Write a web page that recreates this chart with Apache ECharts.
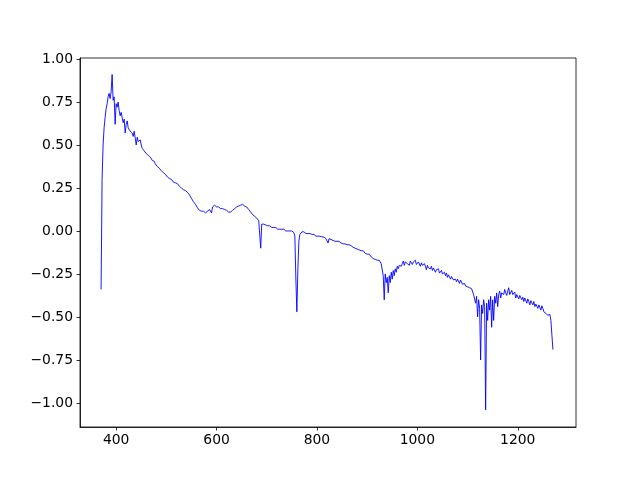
<!DOCTYPE html>
<html>
<head>
<meta charset="utf-8">
<script src="https://cdn.jsdelivr.net/npm/echarts@6/dist/echarts.min.js"></script>
<style>html,body{margin:0;padding:0;background:#fff}#c{width:640px;height:480px}</style>
</head>
<body>
<div id="c"></div>
<script>
// Wavelength sampling grid (nm): first sample and spacing
const wlStart = 370;
const wlStep = 2;
// Flux values, one per sample (370 ... 1270 nm)
const flux = [
 -0.34, 0.30, 0.50, 0.60, 0.66, 0.71, 0.74, 0.78, 0.80, 0.77,
 0.81, 0.91, 0.76, 0.78, 0.62, 0.74, 0.72, 0.75, 0.70, 0.67,
 0.69, 0.66, 0.63, 0.65, 0.57, 0.62, 0.64, 0.60, 0.61, 0.58,
 0.59, 0.57, 0.55, 0.58, 0.54, 0.50, 0.545, 0.52, 0.51, 0.53,
 0.50, 0.48, 0.49, 0.465, 0.47, 0.45, 0.455, 0.44, 0.435, 0.43,
 0.42, 0.41, 0.40, 0.405, 0.39, 0.395, 0.375, 0.385, 0.365, 0.37,
 0.35, 0.355, 0.34, 0.335, 0.33, 0.325, 0.315, 0.31, 0.305, 0.30,
 0.30, 0.295, 0.285, 0.29, 0.28, 0.275, 0.275, 0.265, 0.26, 0.255,
 0.25, 0.25, 0.24, 0.24, 0.235, 0.23, 0.225, 0.22, 0.21, 0.205,
 0.19, 0.18, 0.17, 0.165, 0.155, 0.145, 0.135, 0.125, 0.12, 0.115,
 0.115, 0.11, 0.115, 0.11, 0.105, 0.11, 0.115, 0.12, 0.125, 0.13,
 0.105, 0.14, 0.145, 0.15, 0.145, 0.14, 0.14, 0.14, 0.135, 0.13,
 0.13, 0.13, 0.125, 0.125, 0.12, 0.12, 0.115, 0.11, 0.105, 0.11,
 0.115, 0.12, 0.125, 0.13, 0.135, 0.14, 0.145, 0.145, 0.15, 0.15,
 0.15, 0.155, 0.15, 0.145, 0.14, 0.14, 0.13, 0.125, 0.12, 0.11,
 0.10, 0.095, 0.09, 0.085, 0.08, 0.075, 0.07, 0.06, 0.05, -0.10,
 0.04, 0.035, 0.04, 0.03, 0.035, 0.03, 0.03, 0.025, 0.03, 0.025,
 0.02, 0.025, 0.02, 0.015, 0.02, 0.015, 0.01, 0.015, 0.01, 0.015,
 0.01, 0.005, 0.01, 0.005, 0.0, 0.005, 0.0, 0.005, 0.0, -0.005,
 0.0, -0.005, -0.01, -0.03, -0.28, -0.47, -0.22, -0.06, -0.02, -0.01,
 -0.005, -0.01, -0.005, -0.01, -0.015, -0.01, -0.015, -0.02, -0.015, -0.02,
 -0.02, -0.025, -0.02, -0.025, -0.03, -0.025, -0.03, -0.035, -0.03, -0.035,
 -0.035, -0.04, -0.035, -0.04, -0.045, -0.04, -0.07, -0.045, -0.05, -0.05,
 -0.05, -0.055, -0.055, -0.06, -0.055, -0.06, -0.065, -0.06, -0.065, -0.07,
 -0.07, -0.075, -0.07, -0.075, -0.08, -0.08, -0.085, -0.08, -0.09, -0.085,
 -0.09, -0.095, -0.09, -0.10, -0.095, -0.105, -0.10, -0.11, -0.105, -0.115,
 -0.12, -0.115, -0.125, -0.13, -0.125, -0.135, -0.14, -0.135, -0.145, -0.15,
 -0.15, -0.16, -0.155, -0.165, -0.16, -0.17, -0.175, -0.17, -0.18, -0.19,
 -0.20, -0.26, -0.40, -0.25, -0.30, -0.27, -0.36, -0.26, -0.30, -0.24,
 -0.28, -0.23, -0.26, -0.22, -0.24, -0.205, -0.22, -0.20, -0.19, -0.205,
 -0.19, -0.175, -0.20, -0.18, -0.17, -0.19, -0.185, -0.20, -0.175, -0.18,
 -0.195, -0.18, -0.19, -0.17, -0.195, -0.20, -0.18, -0.19, -0.205, -0.185,
 -0.20, -0.21, -0.19, -0.205, -0.225, -0.20, -0.215, -0.21, -0.22, -0.205,
 -0.23, -0.215, -0.22, -0.24, -0.225, -0.235, -0.22, -0.245, -0.24, -0.23,
 -0.25, -0.255, -0.24, -0.26, -0.245, -0.27, -0.255, -0.26, -0.28, -0.265,
 -0.27, -0.285, -0.275, -0.28, -0.295, -0.28, -0.29, -0.305, -0.285, -0.295,
 -0.31, -0.30, -0.305, -0.32, -0.31, -0.325, -0.315, -0.33, -0.34, -0.335,
 -0.34, -0.37, -0.36, -0.42, -0.38, -0.50, -0.40, -0.45, -0.75, -0.43,
 -0.48, -0.40, -0.44, -1.04, -0.42, -0.52, -0.40, -0.46, -0.38, -0.56,
 -0.40, -0.52, -0.38, -0.42, -0.36, -0.44, -0.37, -0.35, -0.39, -0.36,
 -0.35, -0.37, -0.34, -0.36, -0.375, -0.35, -0.33, -0.37, -0.36, -0.345,
 -0.37, -0.38, -0.355, -0.39, -0.37, -0.36, -0.395, -0.375, -0.38, -0.40,
 -0.385, -0.41, -0.39, -0.40, -0.42, -0.395, -0.41, -0.43, -0.405, -0.415,
 -0.43, -0.41, -0.44, -0.425, -0.42, -0.45, -0.43, -0.445, -0.46, -0.435,
 -0.45, -0.47, -0.46, -0.48, -0.47, -0.49, -0.50, -0.485, -0.52, -0.51,
 -0.69
];
const xTicks = [400, 600, 800, 1000, 1200];
const yTicks = [-1.0, -0.75, -0.5, -0.25, 0.0, 0.25, 0.5, 0.75, 1.0];

const points = flux.map((v, i) => [wlStart + i * wlStep, v]);
const fmtY = v => (v < 0 ? '\u2212' : '') + Math.abs(v).toFixed(2);
const fmtX = v => String(v);
const font = {fontFamily: 'DejaVu Sans', fontSize: 13.9, color: '#000'};

const chart = echarts.init(document.getElementById('c'), null, {renderer: 'canvas'});
chart.setOption({
  animation: false,
  backgroundColor: '#fff',
  grid: {left: 80, top: 58, width: 496, height: 369, show: true, borderColor: '#000', borderWidth: 0.8, containLabel: false},
  xAxis: {
    type: 'value', min: 328, max: 1316,
    axisLine: {show: true, onZero: false, lineStyle: {color: '#000', width: 0.8}},
    axisTick: {show: true, length: 3.5, customValues: xTicks, lineStyle: {color: '#000', width: 0.8}},
    axisLabel: Object.assign({customValues: xTicks, margin: 6, formatter: fmtX}, font),
    splitLine: {show: false}
  },
  yAxis: {
    type: 'value', min: -1.14, max: 1.006,
    axisLine: {show: true, onZero: false, lineStyle: {color: '#000', width: 0.8}},
    axisTick: {show: true, length: 3.5, customValues: yTicks, lineStyle: {color: '#000', width: 0.8}},
    axisLabel: Object.assign({customValues: yTicks, margin: 7, formatter: fmtY}, font),
    splitLine: {show: false}
  },
  series: [{
    type: 'line',
    data: points,
    showSymbol: false,
    symbol: 'none',
    lineStyle: {color: '#0000ff', width: 0.9},
    z: 3
  }]
});
</script>
</body>
</html>
